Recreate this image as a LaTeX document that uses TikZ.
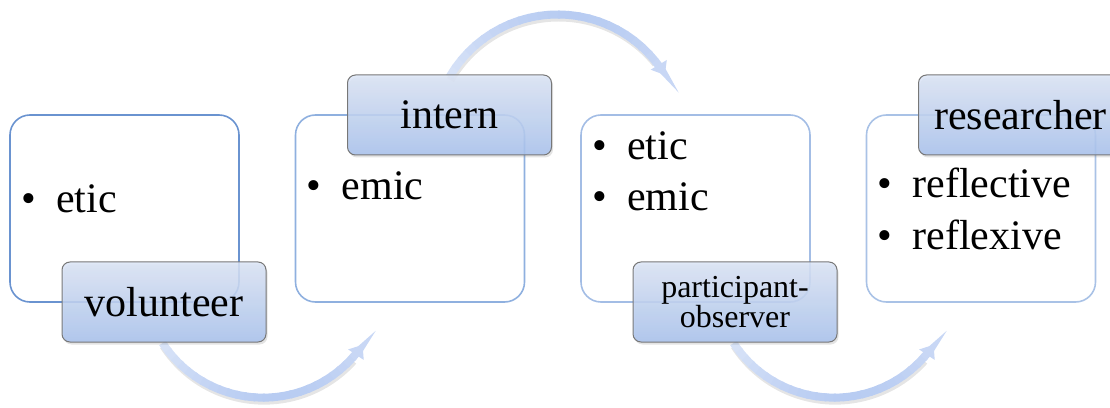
\documentclass[tikz,border=0pt]{standalone}
\usepackage{fontspec}
\setmainfont{Liberation Serif}
\usetikzlibrary{arrows.meta,shadows,calc}

% frame colours of the four stages, darkest first
\definecolor{boxA}{HTML}{6A93D0}
\definecolor{boxB}{HTML}{8FB0DF}
\definecolor{boxC}{HTML}{A3BDE5}
\definecolor{boxD}{HTML}{A9C2E6}
% role tags
\definecolor{tagTop}{HTML}{DCE5F6}
\definecolor{tagBot}{HTML}{A8C2EE}
\definecolor{tagEdge}{HTML}{777777}
% curved flow arrows
\definecolor{flowA}{HTML}{E2EAF9}
\definecolor{flowB}{HTML}{B8CCF2}

\newcommand\bul{\makebox[35pt][l]{\textbullet}}

% #1 name, #2 start point, #3 start angle, #4 angle where the tip begins,
% #5 end angle, #6 radius
\newcommand\flowarc[6]{%
  \coordinate (#1c) at ($(#2)+({#3+180}:#6pt)$);
  \draw[line width=8pt, black, opacity=0.10]
    ([shift={(#3:#6pt)},xshift=1pt,yshift=-3pt]#1c)
    arc[start angle=#3, end angle=#4, radius=#6pt];
  \foreach \k in {0,...,23}{%
    \pgfmathsetmacro\aa{#3+(#4-#3)*\k/24}%
    \pgfmathsetmacro\ab{#3+(#4-#3)*(\k+1.2)/24}%
    \pgfmathtruncatemacro\pc{25+75*sin(150*\k/24)}%
    \draw[line width=8pt, draw=flowB!\pc!flowA]
      ([shift={(\aa:#6pt)}]#1c) arc[start angle=\aa, end angle=\ab, radius=#6pt];
  }
  \draw[line width=8pt, draw=flowB!62!flowA,
        -{Triangle[width=18pt,length=12pt]}]
    ([shift={(#4:#6pt)}]#1c) arc[start angle=#4, end angle=#5, radius=#6pt];
}

\tikzset{
  infobox/.style={draw, line width=1.6pt, rounded corners=20pt,
    minimum width=229pt, minimum height=187pt, inner sep=0pt, outer sep=0pt},
  tagbox/.style={draw=tagEdge, line width=1pt, rounded corners=8pt,
    minimum width=204pt, minimum height=80pt, inner sep=0pt,
    top color=tagTop, bottom color=tagBot, fill opacity=0.85, text opacity=1,
    drop shadow={shadow xshift=1.5pt, shadow yshift=-2.5pt, opacity=0.22},
    font=\fontsize{42}{50}\selectfont, align=center},
  point/.style={anchor=base west, inner sep=0pt,
    font=\fontsize{42}{50}\selectfont},
}

\begin{document}
\begin{tikzpicture}[x=1pt,y=1pt]
  \useasboundingbox (0,0) rectangle (1110,407);
  \clip (0,0) rectangle (1110,407);

  % stage frames
  \node[infobox, draw=boxA] (b1) at (124.5,198.5) {};
  \node[infobox, draw=boxB] (b2) at (410,198.5) {};
  \node[infobox, draw=boxC] (b3) at (695.5,198.5) {};
  \node[infobox, draw=boxD] (b4) at (981,198.5) {};

  % bullet points
  \node[point] (t1)  at ($(b1.north west)+(11,-98)$)  {\bul etic};
  \node[point] (t2)  at ($(b2.north west)+(11,-85)$)  {\bul emic};
  \node[point] (t3a) at ($(b3.north west)+(11,-45)$)  {\bul etic};
  \node[point] (t3b) at ($(b3.north west)+(11,-96)$)  {\bul emic};
  \node[point] (t4a) at ($(b4.north west)+(11,-83)$)  {\bul reflective};
  \node[point] (t4b) at ($(b4.north west)+(11,-135)$) {\bul reflexive};

  % anchor points of the flow arrows
  \coordinate (s1) at ($(b1.south)+(38,-41)$);
  \coordinate (s2) at ($(b2.north)+(39.5,38)$);
  \coordinate (s3) at ($(b3.south)+(38,-41)$);

  \flowarc{f1}{s1}{213}{318}{326}{120}
  \flowarc{f2}{s2}{150}{39}{31}{125}
  \flowarc{f3}{s3}{213}{318}{326}{120}

  % role tags
  \node[tagbox] (l1) at ($(b1.south)+(39.5,0)$) {volunteer};
  \node[tagbox] (l2) at ($(b2.north)+(39.5,0)$) {intern};
  \node[tagbox, font=\fontsize{32}{30}\selectfont]
    (l3) at ($(b3.south)+(39.5,0)$) {participant-\\observer};
  \node[tagbox] (l4) at ($(b4.north)+(39.5,0)$) {researcher};
\end{tikzpicture}
\end{document}
